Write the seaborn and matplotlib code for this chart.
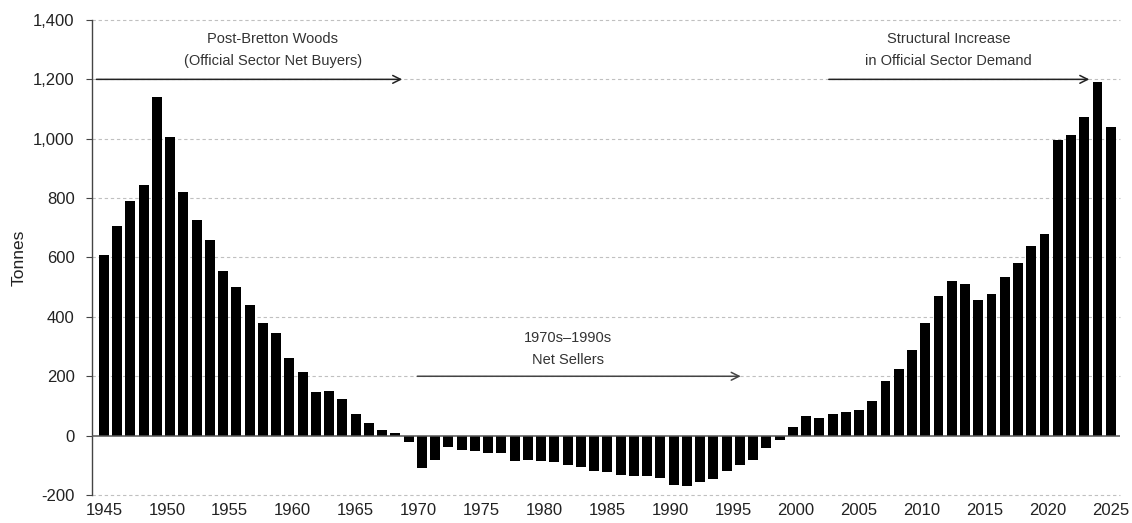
import matplotlib
matplotlib.use("Agg")
import matplotlib.pyplot as plt
from matplotlib.ticker import FuncFormatter
import numpy as np
import pandas as pd
import seaborn as sns

# net official-sector gold purchases, one bar per period as drawn (tonnes)
early_buying = [610, 705, 790, 845, 1140, 1005, 820, 725, 660, 555, 500, 440,
                380, 345, 260, 215, 148, 152, 122, 72, 42, 20, 8]
net_selling = [-22, -110, -81, -39, -48, -53, -58, -60, -84, -82, -84, -90,
               -99, -107, -120, -124, -132, -136, -135, -141, -165, -168, -157,
               -146, -120, -100, -82, -42, -15]
recent_buying = [28, 67, 58, 72, 79, 88, 116, 185, 223, 287, 381, 469, 521,
                 512, 458, 477, 535, 580, 639, 678, 995, 1012, 1074, 1192, 1040]

tick_years = list(range(1945, 2030, 5))
y_ticks = list(range(-200, 1600, 200))

tonnes = early_buying + net_selling + recent_buying
df = pd.DataFrame({"bar": np.arange(len(tonnes)), "tonnes": tonnes})

# bars are spaced a little wider than the year axis labels
first_year, last_year = tick_years[0], tick_years[-1]
span = (len(tonnes) - 1) / (last_year - first_year)


def pos(year):
    return (year - first_year) * span


sns.set_theme(style="white")
plt.rcParams["font.family"] = ["Liberation Sans", "DejaVu Sans"]

fig = plt.figure(figsize=(11.32, 5.23), dpi=100)
ax = fig.add_axes([0.0813, 0.0535, 0.9081, 0.9083])

sns.barplot(data=df, x="bar", y="tonnes", color="black", width=0.75,
            linewidth=0, saturation=1, ax=ax)

ax.set_ylim(-200, 1400)
ax.set_xlim(-0.9, len(tonnes) - 0.3)
ax.set_yticks(y_ticks)
ax.yaxis.set_major_formatter(FuncFormatter(lambda v, p: f"{v:,.0f}"))
ax.set_xticks([pos(y) for y in tick_years])
ax.set_xticklabels([str(y) for y in tick_years])

for v in y_ticks:
    if v != 0:
        ax.axhline(v, color="#c0c0c0", lw=0.8, ls=(0, (3, 2.5)), zorder=0,
                   clip_on=False)
ax.axhline(0, color="#555555", lw=1.1, zorder=3)

for side in ["top", "right", "bottom"]:
    ax.spines[side].set_visible(False)
ax.spines["left"].set_color("#444444")
ax.spines["left"].set_linewidth(1.0)

ax.tick_params(axis="y", left=True, length=4.5, width=0.8, color="#444444",
               pad=8, labelsize=12, labelcolor="#222222")
ax.tick_params(axis="x", bottom=False, length=0, pad=6, labelsize=12,
               labelcolor="#222222")

ax.set_xlabel("")
ax.set_ylabel("Tonnes", fontsize=12.5, color="#222222")
ax.yaxis.set_label_coords(-0.064, 0.5)

arrow = dict(arrowstyle="->", color="#222222", lw=1.1,
             shrinkA=0, shrinkB=0, mutation_scale=14)
txt = dict(ha="center", va="center", fontsize=10.5, color="#333333")

ax.text(pos(1958.4), 1336, "Post-Bretton Woods", **txt)
ax.text(pos(1958.4), 1262, "(Official Sector Net Buyers)", **txt)
ax.annotate("", xy=(pos(1968.7), 1200), xytext=(pos(1944.4), 1200),
            arrowprops=arrow)

ax.text(pos(1981.9), 328, "1970s\u20131990s", **txt)
ax.text(pos(1981.9), 256, "Net Sellers", **txt)
ax.annotate("", xy=(pos(1995.6), 200), xytext=(pos(1969.9), 200),
            arrowprops=dict(arrow, color="#444444"))

ax.text(pos(2012.1), 1336, "Structural Increase", **txt)
ax.text(pos(2012.1), 1262, "in Official Sector Demand", **txt)
ax.annotate("", xy=(pos(2023.3), 1200), xytext=(pos(2002.6), 1200),
            arrowprops=arrow)

fig.savefig("out.png", dpi=100)
